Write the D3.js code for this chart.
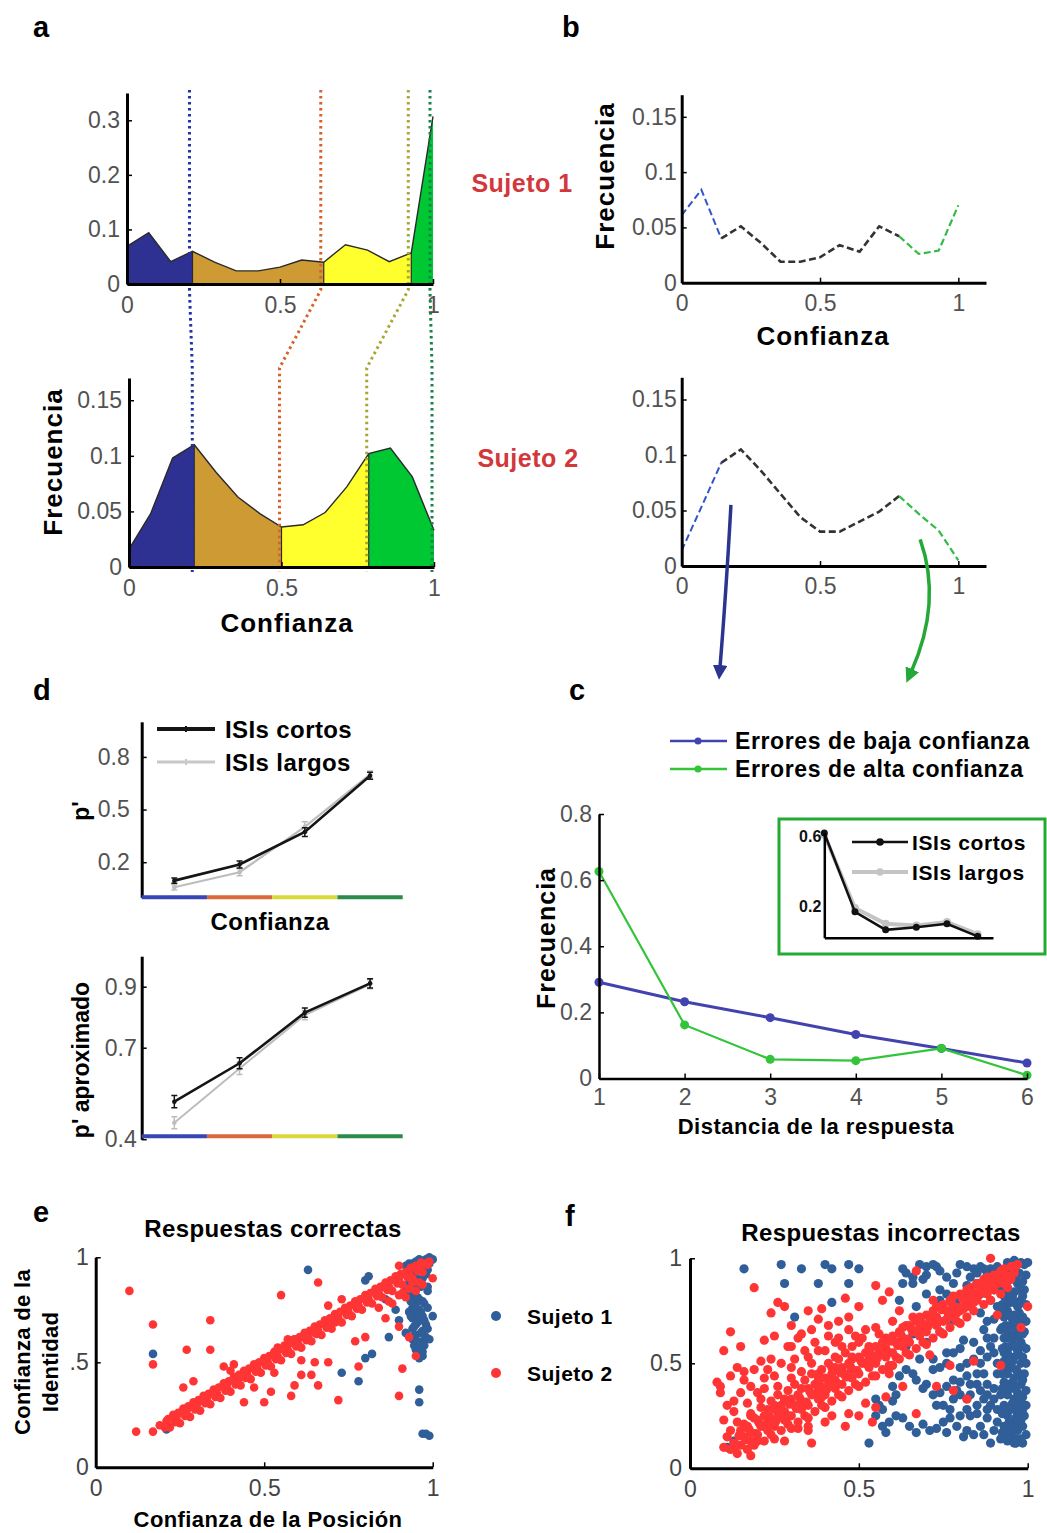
<!DOCTYPE html>
<html>
<head>
<meta charset="utf-8">
<script src="https://cdn.jsdelivr.net/npm/d3@7"></script>
<style>
  body { margin: 0; background: #fff; }
  svg { display: block; }
</style>
</head>
<body>
<svg id="fig" width="1047" height="1533"></svg>
<script>
// ---------------- data ----------------
// confidence grid shared by the density curves (a, b)
const confGrid = [0, 0.071, 0.143, 0.214, 0.286, 0.357, 0.429, 0.5, 0.571, 0.643, 0.714, 0.786, 0.857, 0.929, 1];
// a: confidence distributions, all responses
const freqSujeto1 = [0.069, 0.094, 0.041, 0.060, 0.040, 0.024, 0.024, 0.031, 0.044, 0.040, 0.072, 0.062, 0.041, 0.057, 0.307];
const freqSujeto2 = [0.016, 0.048, 0.098, 0.110, 0.085, 0.063, 0.048, 0.036, 0.038, 0.049, 0.072, 0.102, 0.107, 0.081, 0.033];
// indices of the confidence grid where a confidence quartile ends
const cutIdxSujeto1 = [3, 9, 13];
const cutIdxSujeto2 = [3, 7, 11];
const quartColours = ['#2e3192', '#cd9a33', '#ffff2e', '#00c832'];
const cutColours = ['#2233a4', '#d4632a', '#a7a736', '#17834a'];
const ticksA1 = [0, 0.1, 0.2, 0.3];
const ticksFreq = [0, 0.05, 0.1, 0.15];
const ticksConf = [0, 0.5, 1];
// b: confidence distributions of errors
const errSujeto1 = [0.061, 0.084, 0.040, 0.051, 0.036, 0.019, 0.019, 0.023, 0.034, 0.028, 0.051, 0.042, 0.026, 0.029, 0.070];
const errSujeto2 = [0.014, 0.053, 0.093, 0.105, 0.086, 0.065, 0.044, 0.031, 0.031, 0.040, 0.049, 0.063, 0.047, 0.032, 0.005];
const errSegIdx = [2, 11]; // low-confidence part ends / high-confidence part begins
const errSegColours = ['#3355cc', '#333333', '#33bb44'];
// c: distance of the erroneous response
const distancias = [1, 2, 3, 4, 5, 6];
const erroresBaja = [0.291, 0.232, 0.184, 0.133, 0.091, 0.047];
const erroresAlta = [0.626, 0.162, 0.058, 0.054, 0.091, 0.010];
const insetCortos = [0.62, 0.168, 0.065, 0.080, 0.100, 0.028];
const insetLargos = [0.61, 0.190, 0.100, 0.090, 0.110, 0.040];
const ticksC = [0, 0.2, 0.4, 0.6, 0.8];
const ticksInset = [0.2, 0.6];
// d: sensitivity per confidence quartile
const confBins = [1, 2, 3, 4];
const binColours = ['#3646b4', '#d9683a', '#d8d838', '#2a8c4a'];
const pCortos = [0.095, 0.187, 0.372, 0.693];
const pCortosErr = [0.015, 0.020, 0.025, 0.020];
const pLargos = [0.057, 0.143, 0.401, 0.700];
const pLargosErr = [0.015, 0.020, 0.030, 0.020];
const pAproxCortos = [0.523, 0.649, 0.815, 0.911];
const pAproxCortosErr = [0.020, 0.018, 0.015, 0.015];
const pAproxLargos = [0.454, 0.632, 0.807, 0.908];
const pAproxLargosErr = [0.020, 0.020, 0.015, 0.015];
const ticksD1 = [0.2, 0.5, 0.8];
const ticksD2 = [0.4, 0.7, 0.9];
// e: correct responses (position confidence, identity confidence)
const correctasS1 = [[.94,.97],[.95,.98],[.96,.99],[.97,.98],[.98,.99],[.99,1.0],[1.0,.99],[.99,.97],[.96,.95],[.94,.93],[.95,.90],[.96,.88],[.95,.85],[.94,.82],[.96,.80],[.95,.78],[.94,.76],[.96,.75],[.95,.73],[.94,.71],[.96,.70],[.95,.68],[.94,.66],[.97,.65],[.95,.63],[.94,.61],[.97,.60],[.96,.58],[.95,.56],[.97,.55],[.98,.62],[.99,.61],[1.0,.72],[.98,.92],[.97,.90],[.93,.88],[.92,.84],[.93,.74],[.92,.64],[.96,.52],[.97,.53],[.96,.37],[.96,.31],[.97,.16],[.98,.16],[.99,.15],[.87,.62],[.80,.89],[.81,.91],[.80,.52],[.82,.54],[.78,.41],[.73,.45],[.71,.71],[.63,.94],[.17,.54],[.21,.18],[.30,.30],[.90,.70],[.89,.75],[.86,.80],[.85,.86],[.91,.92],[.98,.96],[.97,.97],[.93,.97],[.92,.96],[.97,.79],[.97,.72],[.98,.68],
  [.935,.96],[.955,.94],[.975,.92],[.945,.89],[.965,.86],[.985,.84],[.935,.84],[.955,.81],[.975,.78],[.945,.77],[.965,.74],[.985,.76],[.935,.72],[.955,.69],[.975,.70],[.945,.67],[.965,.64],[.985,.66],[.935,.62],[.955,.60],[.975,.58],[.945,.58],[.965,.56],[.985,.86],[.985,.94],[.965,.97],[.935,.79],[.955,.87]];
const correctasS2 = [[.10,.84],[.17,.68],[.17,.49],[.34,.70],[.27,.56],[.34,.56],[.12,.17],[.17,.17],[.55,.82],[.66,.88],[.90,.96],[1.0,.90],[.73,.80],[.69,.77],[.72,.32],[.90,.34],[.91,.47],[.95,.53],[.93,.62],[.90,.67],[.86,.71],[.80,.62],[.77,.60],[.78,.48],[.69,.50],[.65,.50],[.66,.39],[.58,.34],[.59,.39],[.61,.44],[.64,.44],[.61,.51],[.57,.61],[.54,.57],[.50,.31],[.44,.31],[.43,.43],[.40,.46],[.38,.48],[.29,.41],[.26,.38],[.41,.49],[.48,.49],[.51,.50],[.53,.45],[.52,.36],[.47,.38],[.59,.61],[.65,.64],[.71,.69],
  [.22,.19],[.25,.21],[.28,.24],[.31,.27],[.34,.30],[.37,.33],[.40,.36],[.43,.39],[.46,.42],[.49,.45],[.52,.48],[.55,.51],[.58,.54],[.61,.57],[.64,.60],[.67,.63],[.70,.66],[.73,.69],[.76,.72],[.79,.75],[.82,.78],[.85,.81],[.88,.84],[.91,.87],[.94,.90],[.97,.93],
  [.19,.20],[.21,.22],[.24,.24],[.27,.27],[.30,.30],[.33,.33],[.36,.35],[.39,.38],[.42,.41],[.45,.44],[.48,.47],[.51,.50],[.54,.53],[.57,.56],[.60,.59],[.63,.62],[.66,.65],[.69,.68],[.72,.71],[.75,.74],[.78,.77],[.81,.80],[.84,.83],[.87,.86],[.90,.89],[.93,.92],[.96,.95],[.98,.97],[.99,.98],
  [.23,.25],[.26,.28],[.29,.31],[.32,.34],[.35,.37],[.38,.40],[.41,.43],[.44,.46],[.47,.49],[.50,.52],[.53,.55],[.56,.58],[.59,.61],[.62,.64],[.65,.67],[.68,.70],[.71,.73],[.74,.76],[.77,.79],[.80,.82],[.83,.85],[.86,.88],[.89,.91],[.92,.93],[.95,.96],
  [.205,.19],[.235,.215],[.265,.245],[.295,.275],[.325,.305],[.355,.335],[.385,.365],[.415,.395],[.445,.425],[.475,.455],[.505,.485],[.535,.515],[.565,.545],[.595,.575],[.625,.605],[.655,.635],[.685,.665],[.715,.695],[.745,.725],[.775,.755],[.805,.785],[.835,.815],[.865,.845],[.895,.875],[.925,.905],[.955,.935],[.985,.965],
  [.215,.23],[.245,.26],[.275,.29],[.305,.32],[.335,.35],[.365,.38],[.395,.41],[.425,.44],[.455,.47],[.485,.50],[.515,.53],[.545,.56],[.575,.59],[.605,.62],[.635,.65],[.665,.68],[.695,.71],[.725,.74],[.755,.77],[.785,.80],[.815,.83],[.845,.86],[.875,.89],[.905,.92],[.935,.95],[.965,.975],
  [.84,.76],[.87,.79],[.90,.82],[.93,.85],[.96,.88],[.88,.78],[.92,.81],[.95,.84],[.97,.87],[.94,.88],[.91,.83]];
// f: incorrect responses
const incorrectasS1 = [[.16,.95],[.27,.97],[.33,.95],[.40,.97],[.42,.95],[.47,.97],[.50,.95],[.63,.95],[.68,.97],[.70,.96],[.72,.97],[.73,.96],[.80,.97],[.84,.95],[.86,.96],[.89,.95],[.94,.98],[.95,.97],[.96,.99],[.98,.98],[.99,.97],[1.0,.98],
  [.28,.88],[.38,.88],[.47,.88],[.63,.88],[.66,.88],[.69,.90],[.74,.85],[.78,.88],[.82,.87],[.85,.88],[.88,.90],[.90,.85],
  [.42,.79],[.31,.72],[.62,.80],[.67,.77],[.55,.25],[.53,.12],[.58,.17],[.63,.24],[.69,.21],[.71,.18],[.79,.20],[.82,.18],[.85,.26],[.82,.33],[.87,.33],[.88,.40],[.85,.45],[.78,.42],[.76,.39],[.72,.47],[.80,.48],[.84,.60],[.87,.66],[.90,.71],[.88,.53],[.55,.33],[.57,.28],[.60,.39],[.59,.48],[.68,.52],[.76,.55],[.81,.61],[.78,.74],[.72,.72],[.66,.64],[.64,.58],[.92,.85],[.89,.80],[.85,.88],[.11,.10],[.13,.13],
  [.56,.30],[.59,.22],[.61,.35],[.66,.45],[.70,.40],[.73,.30],[.75,.22],[.77,.28],[.80,.35],[.83,.40],[.86,.50],[.89,.58],[.90,.62],[.91,.45],[.90,.38],[.89,.30],[.88,.24],[.86,.20],[.83,.25],[.78,.33],[.74,.36],[.70,.60],[.74,.65],[.77,.70],[.80,.76],[.83,.78],[.86,.74],[.88,.70],[.91,.77],[.92,.66],[.93,.55],
  [.94,.13],[.96,.12],[.98,.14],[.95,.16],[.97,.18],[.93,.20],[.96,.21],[.98,.23],[.94,.25],[.97,.26],[.95,.28],[.93,.30],[.98,.31],[.96,.33],[.94,.35],[.97,.36],[.95,.38],[.98,.40],[.93,.41],[.96,.43],[.94,.45],[.97,.46],[.95,.48],[.98,.50],[.93,.51],[.96,.53],[.94,.55],[.97,.56],[.95,.58],[.98,.60],[.93,.62],[.96,.63],[.94,.65],[.97,.67],[.95,.68],[.98,.70],[.93,.72],[.96,.73],[.94,.75],[.97,.77],[.95,.79],[.98,.80],[.93,.82],[.96,.84],[.94,.86],[.97,.88],[.95,.90],[.99,.85],[.99,.65],[.99,.45],[.99,.25],[.92,.14],[.92,.35],[.92,.75],[.85,.93],[.88,.92],[.90,.93],[.92,.92],
  [.64,.93],[.66,.91],[.70,.92],[.74,.94],[.76,.91],[.79,.93],[.82,.96],[.83,.91],[.87,.95],[.91,.96],[.93,.94],[.76,.83],[.79,.80],[.82,.82],[.86,.83],[.88,.86],[.91,.88],[.74,.80],[.70,.83],
  [.72,.52],[.74,.48],[.76,.50],[.78,.55],[.80,.57],[.82,.50],[.84,.52],[.86,.56],[.88,.62],[.90,.55],[.91,.50],[.87,.45],[.85,.40],[.82,.44],[.80,.41],[.79,.37],[.83,.35],[.86,.37],[.88,.35],[.90,.33],[.91,.28],[.88,.28],[.85,.30],[.82,.28],[.80,.25],[.77,.24],[.75,.30],[.72,.35],[.69,.38],[.67,.42],[.64,.47],[.62,.44],[.60,.32],[.61,.25],[.57,.20],[.65,.20],[.67,.17],[.73,.19],[.76,.17],[.81,.15],[.84,.16],[.87,.16],[.90,.18],[.91,.22],[.89,.12],
  [.935,.15],[.955,.19],[.975,.22],[.995,.16],[.935,.27],[.955,.31],[.975,.34],[.995,.30],[.935,.39],[.955,.41],[.975,.44],[.995,.37],[.935,.48],[.955,.51],[.975,.54],[.995,.50],[.935,.58],[.955,.61],[.975,.63],[.995,.57],[.935,.68],[.955,.71],[.975,.74],[.995,.70],[.935,.78],[.955,.82],[.975,.85],[.995,.78],[.935,.88],[.955,.92],[.975,.93],[.995,.92],[.965,.14],[.945,.22],[.985,.28],[.965,.39],[.945,.50],[.985,.58],[.965,.66],[.945,.80],[.985,.89],
  [.925,.17],[.945,.18],[.965,.24],[.985,.20],[.925,.26],[.945,.29],[.965,.29],[.985,.34],[.925,.38],[.945,.40],[.965,.47],[.985,.42],[.925,.45],[.945,.53],[.965,.58],[.985,.53],[.925,.57],[.945,.62],[.965,.70],[.985,.64],[.925,.67],[.945,.73],[.965,.79],[.985,.72],[.925,.78],[.945,.84],[.965,.90],[.985,.82],[.925,.86],[.945,.93],[.965,.12],[.985,.12]];
const incorrectasS2 = [[.19,.86],[.12,.65],[.10,.56],[.08,.41],[.09,.39],[.14,.48],[.13,.32],[.10,.23],[.12,.18],[.10,.10],[.18,.06],[.24,.74],[.26,.79],[.28,.77],[.25,.63],[.30,.58],[.35,.75],[.39,.76],[.46,.81],[.50,.77],[.47,.72],[.55,.87],[.59,.84],[.57,.80],[.33,.64],[.36,.66],[.41,.63],[.43,.60],[.49,.63],[.51,.62],[.55,.67],[.67,.94],[.72,.80],[.89,1.0],[1.0,.77],[.98,.67],[.91,.73],[.92,.49],[.84,.51],[.77,.49],[.78,.37],[.82,.33],[.73,.39],[.71,.54],[.67,.26],[.55,.29],[.52,.31],[.47,.26],[.46,.20],[.35,.20],[.35,.18],[.28,.13],[.20,.13],[.21,.33],[.18,.39],[.16,.42],[.21,.51],[.24,.52],[.30,.48],[.29,.58],[.38,.56],[.35,.53],[.43,.53],[.48,.52],[.46,.44],[.39,.34],[.33,.29],[.27,.26],[.24,.23],[.18,.25],[.17,.31],[.26,.39],[.22,.43],[.58,.34],[.59,.45],[.63,.39],[.61,.53],[.58,.61],[.66,.72],
  [.09,.36],[.11,.30],[.13,.27],[.15,.36],[.16,.46],[.19,.47],[.20,.36],[.22,.38],[.23,.47],[.25,.44],[.27,.50],[.28,.33],[.30,.43],[.31,.52],[.32,.62],[.33,.46],[.34,.56],[.36,.50],[.37,.60],[.38,.45],[.40,.56],[.41,.68],[.42,.48],[.44,.62],[.45,.58],[.47,.66],[.48,.58],[.50,.60],[.52,.66],[.53,.57],[.56,.64],[.44,.70],[.38,.71],[.30,.68],[.22,.61],[.15,.58],[.12,.44],[.25,.30],[.32,.19],[.40,.22],[.42,.25],[.50,.25],[.54,.22],[.36,.12],[.14,.22],[.11,.15],[.60,.70],[.62,.75],[.64,.68],
  [.14,.07],[.17,.09],[.19,.11],[.22,.13],[.24,.16],[.27,.18],[.29,.21],[.32,.22],[.34,.25],[.37,.27],[.39,.30],[.42,.32],[.44,.35],[.47,.37],[.49,.40],[.52,.41],[.54,.44],[.57,.47],[.59,.49],[.62,.52],[.64,.55],[.67,.57],[.69,.60],[.72,.62],[.74,.65],[.77,.67],[.79,.70],[.82,.72],[.84,.75],[.87,.78],[.89,.80],[.92,.83],[.94,.86],
  [.12,.09],[.15,.11],[.18,.13],[.20,.16],[.23,.18],[.25,.20],[.28,.23],[.30,.25],[.33,.28],[.35,.30],[.38,.33],[.40,.35],[.43,.38],[.45,.40],[.48,.43],[.50,.45],[.53,.48],[.55,.50],[.58,.53],[.60,.55],[.63,.58],[.65,.60],[.68,.63],[.70,.65],[.73,.68],[.75,.70],[.78,.73],[.80,.75],[.83,.78],[.85,.80],[.88,.83],[.90,.85],[.93,.88],[.95,.90],
  [.13,.12],[.16,.15],[.18,.17],[.21,.20],[.23,.22],[.26,.25],[.28,.27],[.31,.30],[.33,.32],[.36,.35],[.38,.37],[.41,.40],[.43,.42],[.46,.45],[.48,.47],[.51,.50],[.53,.52],[.56,.55],[.58,.57],[.61,.60],[.63,.62],[.66,.65],[.68,.67],[.71,.70],[.73,.72],[.76,.75],[.78,.77],[.81,.80],[.83,.82],[.86,.85],[.88,.87],[.91,.90],[.93,.92],[.96,.95],[.97,.97],
  [.15,.18],[.17,.20],[.20,.23],[.22,.25],[.25,.28],[.27,.30],[.30,.33],[.32,.35],[.35,.38],[.37,.40],[.40,.43],[.42,.45],[.45,.48],[.47,.50],[.50,.53],[.52,.55],[.55,.58],[.57,.60],[.60,.63],[.62,.65],[.65,.68],[.67,.70],[.70,.73],[.72,.75],[.75,.78],[.77,.80],[.80,.83],[.82,.85],[.85,.88],[.87,.90],[.90,.92],[.92,.94],[.95,.96],
  [.18,.26],[.21,.29],[.24,.32],[.26,.35],[.29,.37],[.31,.40],[.34,.42],[.36,.45],[.39,.47],[.41,.50],[.44,.52],[.46,.55],
  [.135,.105],[.165,.135],[.195,.165],[.225,.195],[.255,.225],[.285,.255],[.315,.285],[.345,.315],[.375,.345],[.405,.375],[.435,.405],[.465,.435],[.495,.465],[.525,.495],[.555,.525],[.585,.555],[.615,.585],[.645,.615],[.675,.645],[.705,.675],[.735,.705],[.765,.735],[.795,.765],[.825,.795],[.855,.825],[.885,.855],[.915,.885],[.945,.915],
  [.145,.155],[.175,.185],[.205,.215],[.235,.245],[.265,.275],[.295,.305],[.325,.335],[.355,.365],[.385,.395],[.415,.425],[.445,.455],[.475,.485],[.505,.515],[.535,.545],[.565,.575],[.595,.605],[.625,.635],[.655,.665],[.685,.695],[.715,.725],[.745,.755],[.775,.785],[.805,.815],[.835,.845],[.865,.875],[.895,.905],[.925,.935],[.955,.96],
  [.16,.21],[.19,.24],[.23,.28],[.28,.32],[.33,.38],[.38,.43],[.43,.48],[.48,.53],[.53,.58],[.58,.62],[.63,.67],[.68,.72],[.73,.77],[.78,.82],[.83,.86],[.88,.91],
  [.25,.14],[.30,.19],[.35,.24],[.40,.29],[.45,.34],[.50,.39],[.55,.44],[.60,.49],[.65,.54],[.70,.59],[.75,.64],[.80,.69],
  [.76,.71],[.79,.74],[.82,.77],[.85,.82],[.88,.86],[.91,.88],[.94,.91],[.96,.93],[.93,.95],[.90,.89],[.87,.84],[.84,.79],[.81,.76],[.78,.72]];

// ---------------- drawing ----------------
const FONT = '"Liberation Sans", Arial, Helvetica, sans-serif';
const TICK_COL = '#525252';
const svg = d3.select('#fig');

const fmtNum = d => d === 0 ? '0' : String(d);

function styleAxis(g, opts = {}) {
  g.attr('font-family', FONT);
  g.select('.domain').attr('stroke', '#000').attr('stroke-width', opts.w || 3).attr('fill', 'none');
  g.selectAll('.tick line').attr('stroke', '#000').attr('stroke-width', 1.5);
  g.selectAll('.tick text')
    .attr('fill', opts.col || TICK_COL)
    .attr('font-size', opts.size || 23)
    .attr('font-weight', opts.bold ? 'bold' : 'normal');
}

function label(txt, x, y, o = {}) {
  const t = svg.append('text')
    .attr('x', x).attr('y', y)
    .attr('font-family', FONT)
    .attr('font-size', o.size || 25)
    .attr('font-weight', o.weight || 'bold')
    .attr('fill', o.fill || '#000')
    .attr('text-anchor', o.anchor || 'middle')
    .attr('letter-spacing', o.ls || 0)
    .text(txt);
  if (o.rotate) t.attr('transform', `rotate(-90 ${x} ${y})`).attr('dominant-baseline', 'central');
  return t;
}

function leftAxis(scale, x, ticks, o = {}) {
  const ax = d3.axisLeft(scale).tickValues(ticks).tickSizeInner(-5).tickSizeOuter(0)
    .tickPadding(o.pad || 7).tickFormat(o.fmt || fmtNum);
  const g = svg.append('g').attr('transform', `translate(${x},0)`).call(ax);
  styleAxis(g, o);
  return g;
}
function bottomAxis(scale, y, ticks, o = {}) {
  const ax = d3.axisBottom(scale).tickValues(ticks).tickSizeInner(-5).tickSizeOuter(0)
    .tickPadding(o.pad || 12).tickFormat(o.fmt || fmtNum);
  const g = svg.append('g').attr('transform', `translate(0,${y})`).call(ax);
  styleAxis(g, o);
  return g;
}

// ---- panel a: confidence densities split in quartiles ----
function density(sc, freq, cuts) {
  const pts = confGrid.map((c, i) => [c, freq[i]]);
  const bounds = [0, ...cuts, pts.length - 1];
  const area = d3.area().x(d => sc.x(d[0])).y0(sc.y(0)).y1(d => sc.y(d[1]));
  for (let i = 0; i < 4; i++) {
    svg.append('path').attr('d', area(pts.slice(bounds[i], bounds[i + 1] + 1)))
      .attr('fill', quartColours[i]);
  }
  cuts.forEach(ci => {
    svg.append('line')
      .attr('x1', sc.x(confGrid[ci])).attr('x2', sc.x(confGrid[ci]))
      .attr('y1', sc.y(0)).attr('y2', sc.y(freq[ci]))
      .attr('stroke', '#2a2a2a').attr('stroke-width', 1.2);
  });
  svg.append('path')
    .attr('d', d3.line().x(d => sc.x(d[0])).y(d => sc.y(d[1]))(pts))
    .attr('fill', 'none').attr('stroke', '#2a2a2a').attr('stroke-width', 1.4);
}

const aTop = { x: d3.scaleLinear().domain([0, 1]).range([127, 433]),
               y: d3.scaleLinear().domain([0, 0.35]).range([284, 93]) };
const aBot = { x: d3.scaleLinear().domain([0, 1]).range([129, 434]),
               y: d3.scaleLinear().domain([0, 0.17]).range([567, 378]) };

density(aTop, freqSujeto1, cutIdxSujeto1);
density(aBot, freqSujeto2, cutIdxSujeto2);

// dotted guides joining the quartile borders of both subjects
const endsTop = [...cutIdxSujeto1.map(i => confGrid[i]), 1];
const endsBot = [...cutIdxSujeto2.map(i => confGrid[i]), 1];
endsTop.forEach((c, i) => {
  const xt = aTop.x(c) - 3, xb = aBot.x(endsBot[i]) - 2;
  const y0 = aTop.y.range()[1] - 3, y1 = aTop.y(0) + 6;
  const y2 = aBot.y.range()[1] - 10, y3 = aBot.y(0) + 5;
  svg.append('path')
    .attr('d', `M${xt},${y0}V${y1}L${xb},${y2}V${y3}`)
    .attr('fill', 'none').attr('stroke', cutColours[i]).attr('stroke-width', 3)
    .attr('stroke-dasharray', '2.6,3.4');
});

leftAxis(aTop.y, 127, ticksA1);
bottomAxis(aTop.x, 284, ticksConf, { pad: 13 });
leftAxis(aBot.y, 129, ticksFreq);
bottomAxis(aBot.x, 567, ticksConf, { pad: 13 });

label('Frecuencia', 53, 462, { rotate: true, ls: 1, size: 26 });
label('Confianza', 287, 632, { ls: 1, size: 26 });
label('Sujeto 1', 522, 192, { fill: '#d2373c', size: 25, ls: 0.5 });
label('Sujeto 2', 528, 467, { fill: '#d2373c', size: 25, ls: 0.5 });

// ---- panel b: confidence of the errors ----
const bx = d3.scaleLinear().domain([0, 1.1]).range([681.7, 986]);
const bTopY = d3.scaleLinear().domain([0, 0.17]).range([282.7, 94.7]);
const bBotY = d3.scaleLinear().domain([0, 0.17]).range([566, 377.3]);

function errCurve(y, vals) {
  const pts = confGrid.map((c, i) => [c, vals[i]]);
  const b = [0, ...errSegIdx, pts.length - 1];
  const line = d3.line().x(d => bx(d[0])).y(d => y(d[1]));
  const widths = [2, 2.6, 2.2];
  for (let i = 0; i < 3; i++) {
    svg.append('path').attr('d', line(pts.slice(b[i], b[i + 1] + 1)))
      .attr('fill', 'none').attr('stroke', errSegColours[i])
      .attr('stroke-width', widths[i]).attr('stroke-dasharray', '7,3.5');
  }
}
errCurve(bTopY, errSujeto1);
errCurve(bBotY, errSujeto2);

leftAxis(bTopY, 681.7, ticksFreq, { pad: 5 });
bottomAxis(bx, 282.7, ticksConf, { pad: 12 });
leftAxis(bBotY, 681.7, ticksFreq, { pad: 5 });
bottomAxis(bx, 566, ticksConf, { pad: 12 });
label('Frecuencia', 605, 176, { rotate: true, ls: 1, size: 26 });
label('Confianza', 823, 345, { ls: 1, size: 26 });

// arrows from the error curves of subject 2 down to panel c
const arrowDefs = svg.append('defs');
[['arrBlue', '#2b3590'], ['arrGreen', '#25a838']].forEach(([id, col]) => {
  arrowDefs.append('marker').attr('id', id).attr('viewBox', '0 0 10 10')
    .attr('refX', 2).attr('refY', 5).attr('markerWidth', 4.2).attr('markerHeight', 4.2)
    .attr('orient', 'auto')
    .append('path').attr('d', 'M0,0L10,5L0,10Z').attr('fill', col);
});
{
  const sx = bx(0.178), sy = bBotY(0.055);
  svg.append('path').attr('d', `M${sx},${sy} Q${sx - 5},${sy + 90} ${sx - 11},${668}`)
    .attr('fill', 'none').attr('stroke', '#2b3590').attr('stroke-width', 3.5)
    .attr('marker-end', 'url(#arrBlue)');
  const gx = bx(0.862), gy = bBotY(0.024);
  svg.append('path').attr('d', `M${gx},${gy} C${gx + 16},${gy + 45} ${gx + 10},${gy + 90} ${gx - 9},${672}`)
    .attr('fill', 'none').attr('stroke', '#25a838').attr('stroke-width', 3.5)
    .attr('marker-end', 'url(#arrGreen)');
}

// ---- panel c: distance of the erroneous response ----
const cx = d3.scaleLinear().domain([1, 6]).range([599, 1027]);
const cy = d3.scaleLinear().domain([0, 0.8]).range([1078.5, 814]);

function lineWithDots(xs, y, vals, col, w, r) {
  const pts = xs.map((d, i) => [d, vals[i]]);
  svg.append('path').attr('d', d3.line().x(d => cx(d[0])).y(d => y(d[1]))(pts))
    .attr('fill', 'none').attr('stroke', col).attr('stroke-width', w);
  svg.selectAll(null).data(pts).enter().append('circle')
    .attr('cx', d => cx(d[0])).attr('cy', d => y(d[1])).attr('r', r).attr('fill', col);
}
lineWithDots(distancias, cy, erroresBaja, '#4343b0', 3, 4.5);
lineWithDots(distancias, cy, erroresAlta, '#33c43a', 2.2, 4.5);

leftAxis(cy, 599, ticksC, { pad: 7, w: 2.5 });
bottomAxis(cx, 1078.5, distancias, { pad: 10, w: 2.5 });
label('Frecuencia', 546, 938, { rotate: true, ls: 1, size: 25 });
label('Distancia de la respuesta', 816, 1134, { size: 22, ls: 0.5 });

// legend of c
[['Errores de baja confianza', '#4343b0', 741], ['Errores de alta confianza', '#33c43a', 769]].forEach(([t, col, y]) => {
  svg.append('line').attr('x1', 670).attr('x2', 727).attr('y1', y).attr('y2', y)
    .attr('stroke', col).attr('stroke-width', 2.5);
  svg.append('circle').attr('cx', 698).attr('cy', y).attr('r', 3.5).attr('fill', col);
  label(t, 735, y + 8, { anchor: 'start', size: 23, ls: 0.6 });
});

// inset of c: high-confidence errors by ISI
svg.append('rect').attr('x', 779).attr('y', 819).attr('width', 266).attr('height', 135)
  .attr('fill', '#fff').attr('stroke', '#22aa33').attr('stroke-width', 3);
const ix = d3.scaleLinear().domain([1, 6.5]).range([824.3, 993]);
const iy = d3.scaleLinear().domain([0.02, 0.62]).range([937.7, 833]);
function insetLine(vals, col, w, r) {
  const pts = distancias.map((d, i) => [d, vals[i]]);
  svg.append('path').attr('d', d3.line().x(d => ix(d[0])).y(d => iy(d[1]))(pts))
    .attr('fill', 'none').attr('stroke', col).attr('stroke-width', w);
  svg.selectAll(null).data(pts).enter().append('circle')
    .attr('cx', d => ix(d[0])).attr('cy', d => iy(d[1])).attr('r', r).attr('fill', col);
}
insetLine(insetLargos, '#c4c4c4', 4, 4);
insetLine(insetCortos, '#111', 2.5, 3.5);
{
  const gl = leftAxis(iy, 824.3, ticksInset, { pad: 3, w: 2.5, col: '#111', size: 16, bold: true });
  gl.selectAll('.tick line').remove();
  const gb = svg.append('g').attr('transform', 'translate(0,937.7)')
    .call(d3.axisBottom(ix).tickValues([]).tickSizeOuter(0));
  styleAxis(gb, { w: 2.5 });
}
[['ISIs cortos', '#111', 842, 2.5], ['ISIs largos', '#c4c4c4', 872, 4]].forEach(([t, col, y, w]) => {
  svg.append('line').attr('x1', 852).attr('x2', 908).attr('y1', y).attr('y2', y)
    .attr('stroke', col).attr('stroke-width', w);
  svg.append('circle').attr('cx', 880).attr('cy', y).attr('r', 3.8).attr('fill', col);
  label(t, 912, y + 8, { anchor: 'start', size: 21, ls: 0.6 });
});

// ---- panel d: p' by confidence quartile ----
const dx = d3.scaleBand().domain(confBins).range([141.7, 402.7]);
const dTopY = d3.scaleLinear().domain([0, 1]).range([897.3, 721.8]);
const dBotY = d3.scaleLinear().domain([0.4, 1.0]).range([1139.2, 956.2]);
const dMid = b => dx(b) + dx.bandwidth() / 2;

function isiSeries(y, vals, errs, col, w) {
  const pts = confBins.map((b, i) => [b, vals[i], errs[i]]);
  svg.append('path').attr('d', d3.line().x(d => dMid(d[0])).y(d => y(d[1]))(pts))
    .attr('fill', 'none').attr('stroke', col).attr('stroke-width', w);
  pts.forEach(d => {
    const xm = dMid(d[0]);
    svg.append('path')
      .attr('d', `M${xm},${y(d[1] - d[2])}V${y(d[1] + d[2])}M${xm - 3},${y(d[1] - d[2])}h6M${xm - 3},${y(d[1] + d[2])}h6`)
      .attr('stroke', col).attr('stroke-width', 1.5).attr('fill', 'none');
    svg.append('circle').attr('cx', xm).attr('cy', y(d[1])).attr('r', 2.3).attr('fill', col);
  });
}
function binAxis(yPos) {
  confBins.forEach((b, i) => {
    svg.append('line').attr('x1', dx(b)).attr('x2', dx(b) + dx.bandwidth())
      .attr('y1', yPos).attr('y2', yPos).attr('stroke', binColours[i]).attr('stroke-width', 4);
  });
}

isiSeries(dTopY, pLargos, pLargosErr, '#bdbdbd', 2.2);
isiSeries(dTopY, pCortos, pCortosErr, '#151515', 2.6);
leftAxis(dTopY, 141.7, ticksD1, { pad: 12 });
binAxis(dTopY(0));
label("p'", 81, 811, { rotate: true, size: 23 });
label('Confianza', 270, 930, { size: 24, ls: 0.5 });
[['ISIs cortos', '#151515', 729, 4], ['ISIs largos', '#c8c8c8', 762, 3]].forEach(([t, col, y, w]) => {
  svg.append('line').attr('x1', 157).attr('x2', 215).attr('y1', y).attr('y2', y)
    .attr('stroke', col).attr('stroke-width', w);
  svg.append('path').attr('d', `M186,${y - 3}V${y + 3}`).attr('stroke', col).attr('stroke-width', 2);
  label(t, 225, y + 9, { anchor: 'start', size: 24, ls: 0.4 });
});

isiSeries(dBotY, pAproxLargos, pAproxLargosErr, '#bdbdbd', 2.0);
isiSeries(dBotY, pAproxCortos, pAproxCortosErr, '#151515', 2.6);
leftAxis(dBotY, 141.7, ticksD2, { pad: 5 });
binAxis(dBotY(0.41));
label("p' aproximado", 81, 1060, { rotate: true, size: 23 });

// ---- panels e, f: identity vs position confidence ----
function scatter(sx, sy, s1, s2, r) {
  svg.append('g').selectAll('circle').data(s1).enter().append('circle')
    .attr('cx', d => sx(d[0])).attr('cy', d => sy(d[1])).attr('r', r).attr('fill', '#2f5e98');
  svg.append('g').selectAll('circle').data(s2).enter().append('circle')
    .attr('cx', d => sx(d[0])).attr('cy', d => sy(d[1])).attr('r', r).attr('fill', '#ff3535');
}
const ex = d3.scaleLinear().domain([0, 1]).range([95.7, 432.7]);
const ey = d3.scaleLinear().domain([0, 1]).range([1467.3, 1257.3]);
scatter(ex, ey, correctasS1, correctasS2, 4.3);
leftAxis(ey, 95.7, [0, 0.5, 1], { pad: 7, fmt: d => d === 0.5 ? '.5' : String(d), col: '#444' });
bottomAxis(ex, 1467.3, [0, 0.5, 1], { pad: 12, col: '#444' });
label('Respuestas correctas', 273, 1237, { size: 24, ls: 0.4 });
label('Confianza de la Posición', 268, 1527, { size: 22, ls: 0.4 });
label('Confianza de la', 22, 1352, { rotate: true, size: 22, ls: 0.3 });
label('Identidad', 50, 1362, { rotate: true, size: 22, ls: 0.3 });

const fx = d3.scaleLinear().domain([0, 1]).range([690, 1027.7]);
const fy = d3.scaleLinear().domain([0, 1]).range([1468.3, 1258.3]);
scatter(fx, fy, incorrectasS1, incorrectasS2, 4.6);
leftAxis(fy, 690, [0, 0.5, 1], { pad: 8, col: '#444' });
bottomAxis(fx, 1468.3, [0, 0.5, 1], { pad: 12, col: '#444' });
label('Respuestas incorrectas', 881, 1241, { size: 24, ls: 0.4 });

// subject legend between e and f
[['Sujeto 1', '#2f5e98', 1316], ['Sujeto 2', '#ff3535', 1373]].forEach(([t, col, y]) => {
  svg.append('circle').attr('cx', 496).attr('cy', y).attr('r', 5).attr('fill', col);
  label(t, 527, y + 8, { anchor: 'start', size: 21, ls: 0.5 });
});

// panel letters
[['a', 33, 37], ['b', 562, 37], ['d', 33, 700], ['c', 569, 700], ['e', 33, 1222], ['f', 565, 1226]]
  .forEach(([t, x, y]) => label(t, x, y, { anchor: 'start', size: 29 }));
</script>
</body>
</html>
